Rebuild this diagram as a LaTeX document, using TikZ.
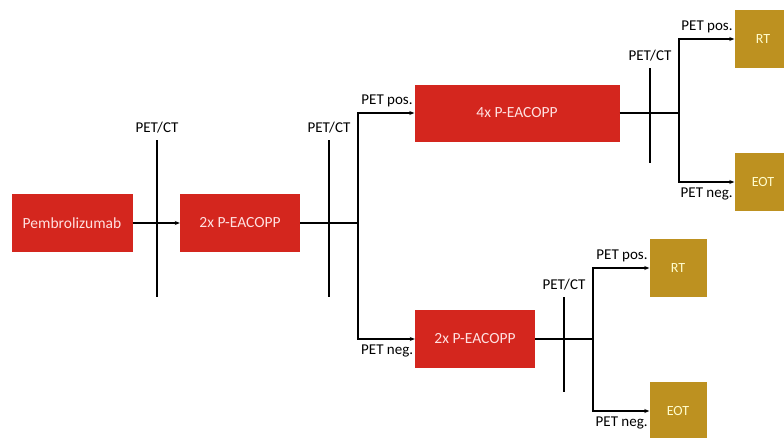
\documentclass[tikz,border=0pt]{standalone}
\usepackage{fontspec}
\setmainfont{Carlito}
\usepackage{xcolor}
\usetikzlibrary{arrows.meta}

\definecolor{boxred}{RGB}{212,38,30}
\definecolor{boxgold}{RGB}{189,145,32}

\begin{document}
\begin{tikzpicture}[
    x=1pt, y=-1pt,
    redbox/.style={rectangle, fill=boxred, text=white!88!red, align=center, inner sep=0pt, font=\fontsize{15.5}{18}\selectfont},
    goldbox/.style={rectangle, fill=boxgold, text=white!80!yellow, align=center, inner sep=0pt, minimum width=57pt, minimum height=58pt, font=\fontsize{14}{16}\selectfont},
    lbl/.style={inner sep=0pt, font=\fontsize{15}{17}\selectfont},
    arrow/.style={-{Stealth[length=5pt, width=4pt]}, line width=1.3pt},
    line/.style={line width=1.3pt}
]
    \useasboundingbox (0,0) rectangle (784,437);

    % treatment boxes
    \node [redbox, minimum width=121pt, minimum height=58pt] (pem) at (72,223) {Pembrolizumab};
    \node [redbox, minimum width=120pt, minimum height=58pt] (p2a) at (240,223) {2x P-EACOPP};
    \node [redbox, minimum width=205pt, minimum height=57pt] (p4) at (517,113) {4x P-EACOPP};
    \node [redbox, minimum width=120pt, minimum height=58pt] (p2b) at (475,339) {2x P-EACOPP};
    \node [goldbox] (rt1) at (763,39) {RT};
    \node [goldbox] (eot1) at (763,182) {EOT};
    \node [goldbox] (rt2) at (678,268) {RT};
    \node [goldbox] (eot2) at (678,411) {EOT};

    % PET/CT markers
    \coordinate (s1t) at (157,140); \coordinate (s1b) at (157,297);
    \coordinate (s2t) at (329,140); \coordinate (s2b) at (329,297);
    \coordinate (s3t) at (650,68);  \coordinate (s3b) at (650,163);
    \coordinate (s4t) at (564,297); \coordinate (s4b) at (564,392);
    \foreach \s in {s1,s2,s3,s4}{
        \draw [line] (\s t) -- (\s b);
        \node [lbl, above=7pt] at (\s t) {PET/CT};
    }

    % branch points
    \coordinate (b1) at (358,223);
    \coordinate (b2) at (679,113);
    \coordinate (b3) at (593,339);

    \draw [arrow] (pem) -- (p2a);
    \draw [line] (p2a.east) -- (b1);
    \draw [arrow] (b1) |- (p4.west) node [lbl, pos=1, anchor=south east, xshift=-1pt, yshift=5pt] {PET pos.};
    \draw [arrow] (b1) |- (p2b.west) node [lbl, pos=1, anchor=north east, xshift=-1pt, yshift=-5pt] {PET neg.};

    \draw [line] (p4.east) -- (b2);
    \draw [arrow] (b2) |- (rt1.west) node [lbl, pos=1, anchor=south east, xshift=-1pt, yshift=5pt] {PET pos.};
    \draw [arrow] (b2) |- (eot1.west) node [lbl, pos=1, anchor=north east, xshift=-1pt, yshift=-5pt] {PET neg.};

    \draw [line] (p2b.east) -- (b3);
    \draw [arrow] (b3) |- (rt2.west) node [lbl, pos=1, anchor=south east, xshift=-1pt, yshift=5pt] {PET pos.};
    \draw [arrow] (b3) |- (eot2.west) node [lbl, pos=1, anchor=north east, xshift=-1pt, yshift=-5pt] {PET neg.};
\end{tikzpicture}
\end{document}
